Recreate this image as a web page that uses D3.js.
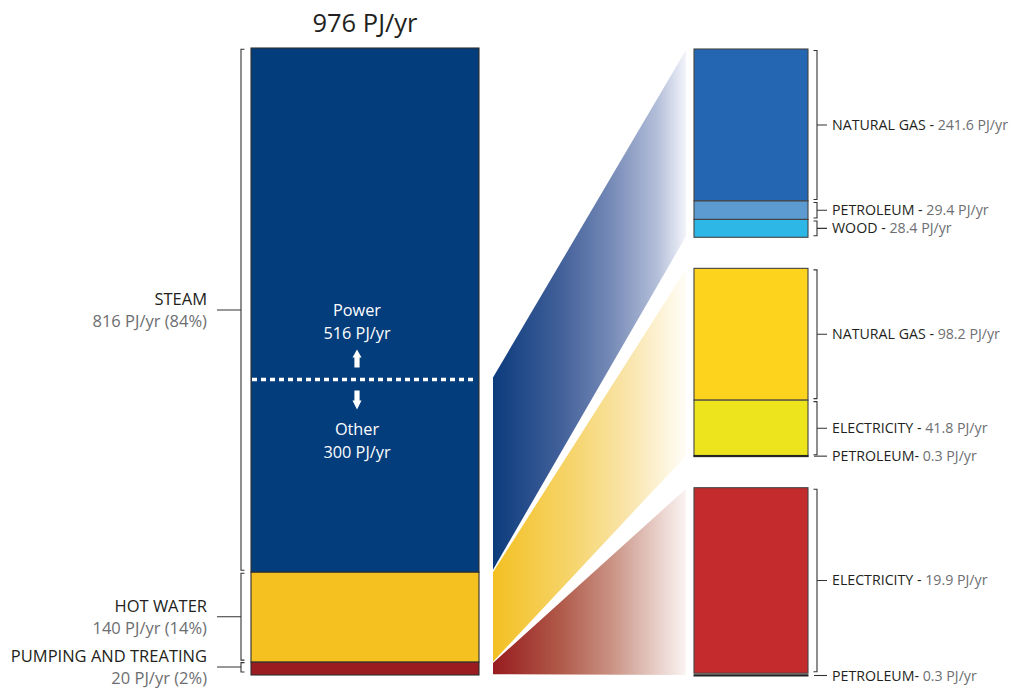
<!DOCTYPE html>
<html><head><meta charset="utf-8">
<script src="https://cdn.jsdelivr.net/npm/d3@7"></script>
<style>body{margin:0;background:#fff} svg{display:block} text{font-family:"Open Sans",sans-serif}</style>
</head><body><svg id="c" width="1009" height="688"></svg>
<script>
// ---------- data ----------
const total = 976;
const unit = "PJ/yr";
const uses = ["STEAM", "HOT WATER", "PUMPING AND TREATING"];
const useValues = [816, 140, 20];
const usePct = [84, 14, 2];
const steamParts = ["Power", "Other"];
const steamPartValues = [516, 300];
const steamSources = ["NATURAL GAS", "PETROLEUM", "WOOD"];
const steamSourceValues = [241.6, 29.4, 28.4];
const steamSeps = [" - ", " - ", " - "];
const hotWaterSources = ["NATURAL GAS", "ELECTRICITY", "PETROLEUM"];
const hotWaterSourceValues = [98.2, 41.8, 0.3];
const hotWaterSeps = [" - ", " - ", "- "];
const pumpingSources = ["ELECTRICITY", "PETROLEUM"];
const pumpingSourceValues = [19.9, 0.3];
const pumpingSeps = [" - ", "- "];

const useColors = ["#043d7c", "#f4c120", "#9b1c20"];
const gradStops = [
  [[0, "#0b3b7c"], [0.35, "#42609a"], [0.6, "#7388b5"], [0.85, "#b3bed9"], [1, "#f3f4fa"]],
  [[0, "#f3c022"], [0.4, "#f6d46a"], [0.7, "#f9e5ab"], [1, "#fffdf7"]],
  [[0, "#981c1f"], [0.35, "#b05a4a"], [0.6, "#c88f80"], [1, "#faf4f2"]]
];
const sourceColors = [
  ["#2466b1", "#5b9bd2", "#2db7e6"],
  ["#fdd31e", "#eee41e", "#2a2a2a"],
  ["#c42b2c", "#2a2a2a"]
];
const dark = "#231f20", gray = "#6d6e71";

const svg = d3.select("#c");
const defs = svg.append("defs");

// ---------- scales ----------
const y = d3.scaleLinear().domain([0, total]).range([48, 675]);
const barX0 = 251, barX1 = 479;
const rx0 = 694, rx1 = 808;
const band = d3.scaleBand().domain(uses).range([49, 676]).paddingInner(0.1416);

const groups = [
  {names: steamSources, vals: steamSourceValues, seps: steamSeps},
  {names: hotWaterSources, vals: hotWaterSourceValues, seps: hotWaterSeps},
  {names: pumpingSources, vals: pumpingSourceValues, seps: pumpingSeps}
];

// cumulative for main bar
let cum = 0;
const useStack = useValues.map((v, i) => { const s = {name: uses[i], v, pct: usePct[i], y0: cum, y1: cum + v, i}; cum += v; return s; });

// ---------- title ----------
svg.append("text").attr("x", 365).attr("y", 32).attr("text-anchor", "middle")
  .attr("font-size", 25.5).attr("fill", dark).text(total + " " + unit);

// ---------- connectors (gradients) ----------
const connLeft = [
  [y(steamPartValues[0]) - 2, y(useStack[0].y1) - 2.5],
  [y(useStack[1].y0), y(useStack[1].y1) - 0.5],
  [y(useStack[2].y0) + 0.8, y(useStack[2].y1) - 0.8]
];
const cx0 = 493, cx1 = 686;
useStack.forEach((s, i) => {
  const g = defs.append("linearGradient").attr("id", "gr" + i)
    .attr("x1", 0).attr("x2", 1).attr("y1", 0).attr("y2", 0);
  gradStops[i].forEach(st => g.append("stop").attr("offset", st[0]).attr("stop-color", st[1]));
  const t = band(s.name) + 1, b = band(s.name) + band.bandwidth() - 1;
  const pts = [[cx0, connLeft[i][0]], [cx1, t], [cx1, b], [cx0, connLeft[i][1]]];
  svg.append("path").attr("d", "M" + pts.join("L") + "Z").attr("fill", `url(#gr${i})`);
});

// ---------- main bar ----------
svg.append("g").selectAll("rect").data(useStack).join("rect")
  .attr("x", barX0).attr("width", barX1 - barX0)
  .attr("y", d => y(d.y0)).attr("height", d => y(d.y1) - y(d.y0))
  .attr("fill", d => useColors[d.i]).attr("stroke", "#2f2f2f").attr("stroke-width", 1.1);

// dotted split
const splitY = y(steamPartValues[0]);
svg.append("line").attr("x1", barX0 + 1).attr("x2", 475).attr("y1", splitY).attr("y2", splitY)
  .attr("stroke", "#fff").attr("stroke-width", 3.6).attr("stroke-dasharray", "5,4");
const acx = 357;
svg.append("path").attr("fill", "#fff")
  .attr("d", `M${acx},${splitY-30}L${acx+4.5},${splitY-22}L${acx+2.6},${splitY-22}L${acx+2.6},${splitY-12}L${acx-2.6},${splitY-12}L${acx-2.6},${splitY-22}L${acx-4.5},${splitY-22}Z`);
svg.append("path").attr("fill", "#fff")
  .attr("d", `M${acx},${splitY+30}L${acx+4.5},${splitY+21}L${acx+2.6},${splitY+21}L${acx+2.6},${splitY+11}L${acx-2.6},${splitY+11}L${acx-2.6},${splitY+21}L${acx-4.5},${splitY+21}Z`);
const partLab = [[steamParts[0], steamPartValues[0], splitY - 63], [steamParts[1], steamPartValues[1], splitY + 56]];
partLab.forEach(p => {
  const t = svg.append("text").attr("x", acx).attr("text-anchor", "middle").attr("fill", "#fff").attr("font-size", 16.3);
  t.append("tspan").attr("x", acx).attr("y", p[2]).text(p[0]);
  t.append("tspan").attr("x", acx).attr("y", p[2] + 22.5).text(p[1] + " " + unit);
});

// ---------- left brackets & labels ----------
const lbx = 241;
const lInset = [[1.3, 2], [1, 2], [0.5, 3]];
useStack.forEach((s, i) => {
  const t = y(s.y0) + lInset[i][0], b = y(s.y1) - lInset[i][1];
  const mid = [310, 616.7, 667][i];
  svg.append("path").attr("fill", "none").attr("stroke", "#333").attr("stroke-width", 1.1)
    .attr("d", `M${lbx+3.5},${t}H${lbx}V${b}H${lbx+3.5}M${lbx},${mid}H217`);
  const tx = svg.append("text").attr("text-anchor", "end").attr("font-size", 16.5);
  tx.append("tspan").attr("x", 207).attr("y", mid - 5).attr("fill", dark).text(s.name);
  tx.append("tspan").attr("x", 207).attr("y", mid + 17).attr("fill", gray).text(`${s.v} ${unit} (${s.pct}%)`);
});

// ---------- right bars ----------
groups.forEach((g, gi) => {
  const top = band(uses[gi]);
  const sy = d3.scaleLinear().domain([0, d3.sum(g.vals)]).range([top, top + band.bandwidth()]);
  let c = 0;
  const segs = g.vals.map((v, j) => { const s = {v, y0: c, y1: c + v, name: g.names[j], sep: g.seps[j], j}; c += v; return s; });
  svg.append("g").selectAll("rect").data(segs).join("rect")
    .attr("x", rx0).attr("width", rx1 - rx0)
    .attr("y", d => { const h = sy(d.y1) - sy(d.y0); return h < 3 ? sy(d.y1) - 1.2 : sy(d.y0); })
    .attr("height", d => { const h = sy(d.y1) - sy(d.y0); return h < 3 ? 1.2 : h; })
    .attr("fill", d => sourceColors[gi][d.j])
    .attr("stroke", d => (sy(d.y1) - sy(d.y0)) < 3 ? "#222" : "#444")
    .attr("stroke-width", d => (sy(d.y1) - sy(d.y0)) < 3 ? 1 : 1.1);
  segs.forEach(d => {
    const a = sy(d.y0), b = sy(d.y1);
    let mid;
    const bx = 817;
    if (b - a < 4) {
      mid = b - 0.5;
      svg.append("path").attr("fill", "none").attr("stroke", "#333").attr("stroke-width", 1.1)
        .attr("d", `M${bx-3},${mid}H827`);
    } else {
      const t = a + 1.5, bb = b - 1.5;
      mid = (t + bb) / 2;
      svg.append("path").attr("fill", "none").attr("stroke", "#333").attr("stroke-width", 1.1)
        .attr("d", `M${bx-3.5},${t}H${bx}V${bb}H${bx-3.5}M${bx},${mid}H827`);
    }
    const tx = svg.append("text").attr("x", 832).attr("y", mid + 5).attr("font-size", 14.2);
    tx.append("tspan").attr("fill", dark).text(d.name + d.sep);
    tx.append("tspan").attr("fill", gray).text(d.v + " " + unit);
  });
});
</script></body></html>
